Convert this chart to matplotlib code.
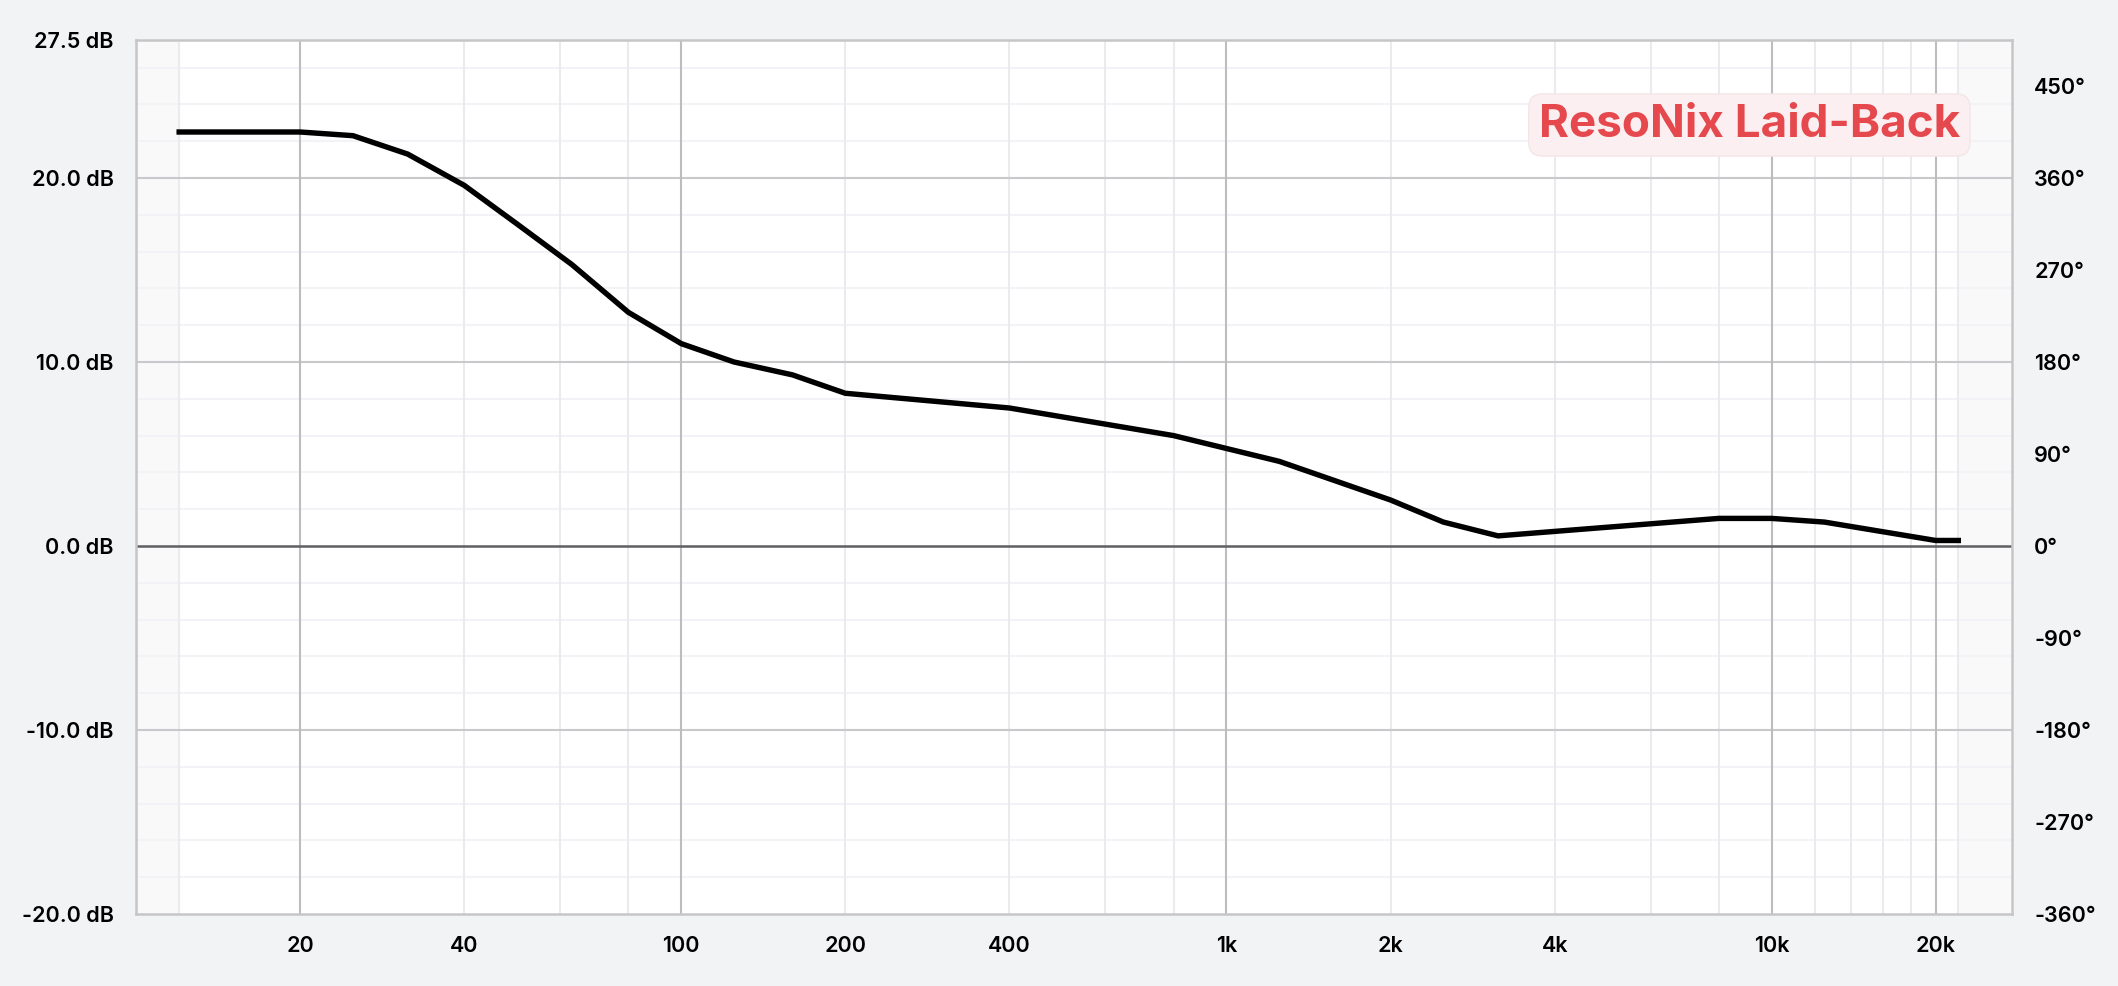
import matplotlib
matplotlib.use('Agg')
import matplotlib.pyplot as plt
from matplotlib import font_manager
from matplotlib.ticker import FixedLocator, NullLocator
import numpy as np

# frequency response (Hz, dB)
freq_hz = [12, 20, 25, 31.5, 40, 50, 63, 80, 100, 125, 160, 200, 400, 800,
           1250, 2000, 2500, 3150, 8000, 10000, 12500, 20000, 22000]
level_db = [22.5, 22.5, 22.3, 21.3, 19.6, 17.5, 15.3, 12.7, 11.0, 10.0, 9.3,
            8.3, 7.5, 6.0, 4.6, 2.5, 1.3, 0.55, 1.5, 1.5, 1.3, 0.3, 0.3]

x_ticks = [20, 40, 100, 200, 400, 1000, 2000, 4000, 10000, 20000]
x_labels = ['20', '40', '100', '200', '400', '1k', '2k', '4k', '10k', '20k']
y_ticks = [-20, -10, 0, 10, 20, 27.5]
phase_ticks = [-360, -270, -180, -90, 0, 90, 180, 270, 360, 450]
title = 'ResoNix Laid-Back'

major_vgrid = [20, 100, 1000, 10000, 20000]
minor_vgrid = [40, 60, 80, 200, 400, 600, 800, 2000, 4000, 6000, 8000,
               12000, 14000, 16000, 18000]

# pick a semibold face if one is installed
semi = [f.name for f in font_manager.fontManager.ttflist
        if f.weight in (500, 600) and f.name in ('Open Sans', 'Noto Sans', 'Inter')]
label_font = semi[0] if semi else 'Noto Sans'
label_weight = 600 if semi else 'bold'

plt.rcParams['font.family'] = [label_font, 'DejaVu Sans']

fig = plt.figure(figsize=(21.18, 9.86), dpi=100, facecolor='#f2f3f5')
ax = fig.add_axes([136 / 2118, 72 / 986, 1876 / 2118, 874 / 986])
ax.set_facecolor('white')
ax.set_xscale('log')
ax.set_xlim(10, 27600)
ax.set_ylim(-20, 27.5)

# shaded regions outside the measured band
ax.axvspan(10, freq_hz[0], color='#f9f9fa', zorder=0, lw=0)
ax.axvspan(freq_hz[-1], 27600, color='#f9f9fa', zorder=0, lw=0)

for v in np.arange(-18, 27.5, 2):
    if v % 10:
        ax.axhline(v, color='#f2f2f7', lw=1.5, zorder=1)
for v in minor_vgrid + [freq_hz[0], freq_hz[-1]]:
    ax.axvline(v, color='#ebebef', lw=1.5, zorder=1)
for v in [-10, 10, 20]:
    ax.axhline(v, color='#c9c9cc', lw=1.5, zorder=1)
for v in major_vgrid:
    ax.axvline(v, color='#bdbdc0', lw=1.5, zorder=1)
ax.axhline(0, color='#5f5f62', lw=1.8, zorder=2)

ax.plot(freq_hz, level_db, color='black', lw=3.9, zorder=3,
        solid_joinstyle='miter')

ax.xaxis.set_major_locator(FixedLocator(x_ticks))
ax.xaxis.set_minor_locator(NullLocator())
ax.set_xticklabels(x_labels)
ax.set_yticks(y_ticks)
ax.set_yticklabels([f'{v:.1f} dB' for v in y_ticks])
ax.tick_params(axis='x', length=0, pad=16, labelsize=15.5)
ax.tick_params(axis='y', length=0, pad=16, labelsize=15.5)
for lab in ax.get_xticklabels() + ax.get_yticklabels():
    lab.set_fontweight(label_weight)

for s in ax.spines.values():
    s.set_color('#c6c6c8')
    s.set_linewidth(1.8)

ax2 = ax.twinx()
ax2.set_ylim(-360, 495)
ax2.set_yticks(phase_ticks)
ax2.set_yticklabels([f'{v}°' for v in phase_ticks])
ax2.tick_params(axis='y', length=0, pad=16, labelsize=15.5)
for lab in ax2.get_yticklabels():
    lab.set_fontweight(label_weight)
for s in ax2.spines.values():
    s.set_visible(False)

ax.text(0.860, 0.9027, title, transform=ax.transAxes, ha='center',
        va='center', fontsize=33, fontweight='bold', color='#e5484d',
        family=['Inter', 'DejaVu Sans'], zorder=5,
        bbox=dict(boxstyle='round,pad=0.22,rounding_size=0.3',
                  facecolor='#fbeff1', edgecolor='#f3e6e8', linewidth=1))

fig.savefig('out.png', dpi=100, facecolor=fig.get_facecolor())
